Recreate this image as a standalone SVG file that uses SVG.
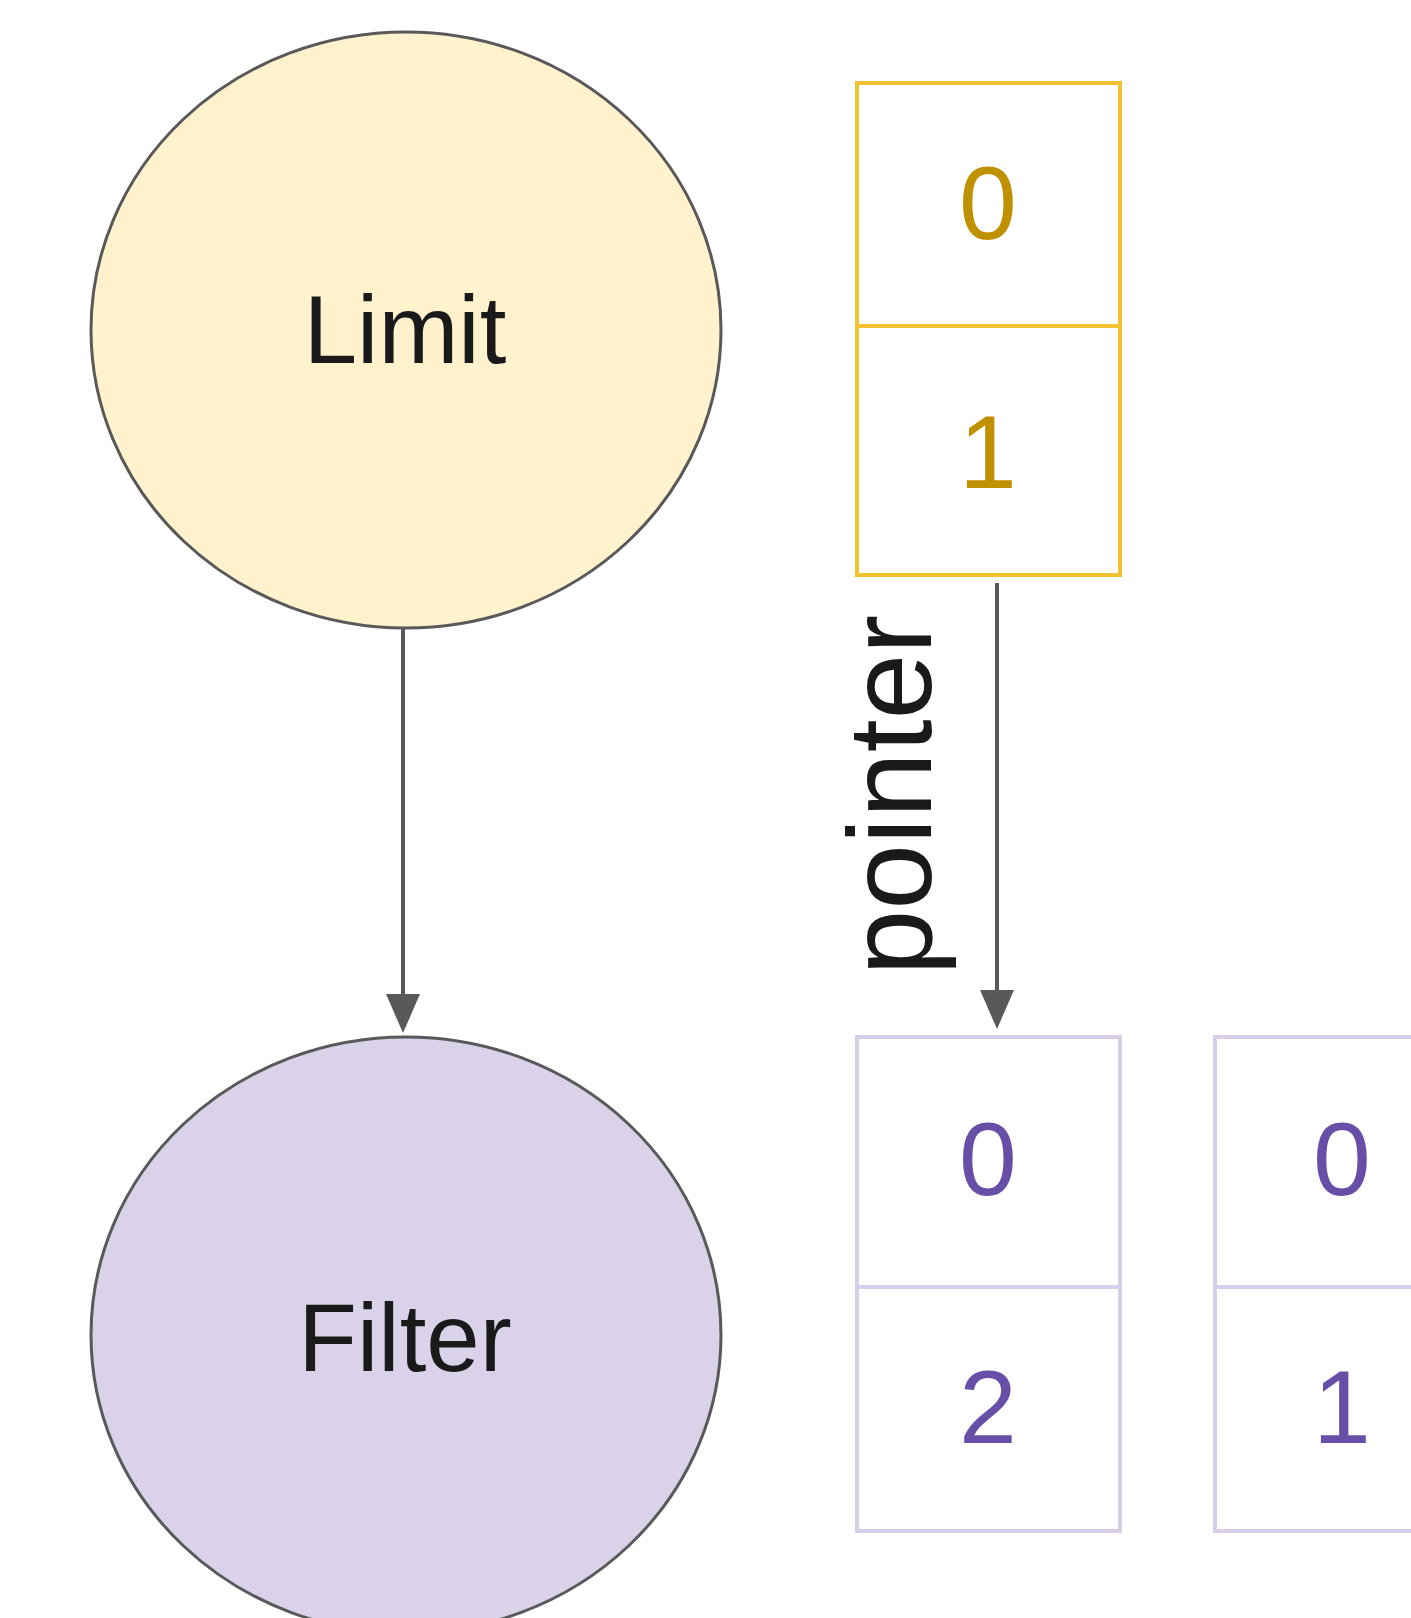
<svg xmlns="http://www.w3.org/2000/svg" width="1411" height="1618" viewBox="0 0 1411 1618">
  <style>
    .op { stroke: #595959; stroke-width: 3; }
    .label { font-family: "Liberation Sans", Arial, sans-serif; fill: #1a1a1a; text-anchor: middle; }
    .cellY { fill: #ffffff; stroke: #F1C232; stroke-width: 4; }
    .cellP { fill: #ffffff; stroke: #D6CEEA; stroke-width: 4; }
    .digit { font-family: "Liberation Sans", Arial, sans-serif; font-size: 104px; text-anchor: middle; }
    .dY { fill: #BF9000; }
    .dP { fill: #674EA7; }
    .edge { stroke: #595959; stroke-width: 4; fill: none; }
    .head { fill: #595959; }
  </style>

  <!-- operator nodes -->
  <g id="limit">
    <ellipse class="op" cx="406" cy="330" rx="315" ry="298" fill="#FFF2CC"/>
    <text class="label" x="405" y="363" font-size="96">Limit</text>
  </g>
  <g id="filter">
    <ellipse class="op" cx="406" cy="1335" rx="315" ry="298" fill="#D9D2E9"/>
    <text class="label" x="405" y="1371" font-size="96">Filter</text>
  </g>

  <!-- selection vector owned by Limit -->
  <g id="limit-vector">
    <rect class="cellY" x="857" y="83" width="263" height="243"/>
    <rect class="cellY" x="857" y="326" width="263" height="249"/>
    <text class="digit dY" x="988" y="239">0</text>
    <text class="digit dY" x="988" y="488">1</text>
  </g>

  <!-- selection vectors owned by Filter -->
  <g id="filter-vector-a">
    <rect class="cellP" x="857" y="1037" width="263" height="250"/>
    <rect class="cellP" x="857" y="1287" width="263" height="244"/>
    <text class="digit dP" x="988" y="1195">0</text>
    <text class="digit dP" x="988" y="1443">2</text>
  </g>
  <g id="filter-vector-b">
    <rect class="cellP" x="1215" y="1037" width="263" height="250"/>
    <rect class="cellP" x="1215" y="1287" width="263" height="244"/>
    <text class="digit dP" x="1342" y="1195">0</text>
    <text class="digit dP" x="1342" y="1443">1</text>
  </g>

  <!-- connectors -->
  <g id="connectors">
    <line class="edge" x1="403" y1="628" x2="403" y2="996"/>
    <path class="head" d="M386,994 L420,994 L403,1033 Z"/>
    <line class="edge" x1="997" y1="583" x2="997" y2="992"/>
    <path class="head" d="M980,990 L1014,990 L997,1029 Z"/>
    <text class="label" transform="translate(931,795) rotate(-90)" x="0" y="0" font-size="118">pointer</text>
  </g>
</svg>
